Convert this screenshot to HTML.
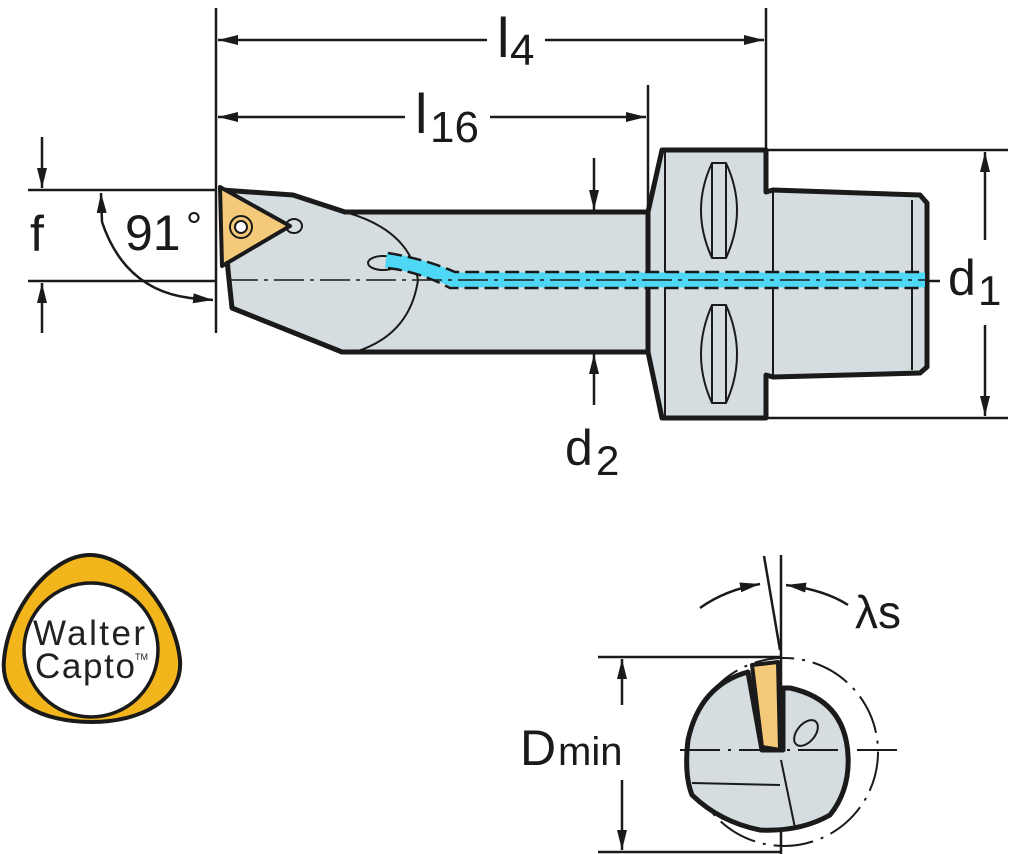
<!DOCTYPE html>
<html><head><meta charset="utf-8"><style>
html,body{margin:0;padding:0;background:#fff}
svg{display:block}
text{font-family:"Liberation Sans",sans-serif;fill:#1a1a1a}
</style></head><body>
<svg width="1024" height="854" viewBox="0 0 1024 854" xmlns="http://www.w3.org/2000/svg">
<defs>
<marker id="a" viewBox="0 0 20 10" refX="20" refY="5" markerWidth="20" markerHeight="10" markerUnits="userSpaceOnUse" orient="auto"><path d="M0,0L20,5L0,10z" fill="#1a1a1a"/></marker>
</defs>
<g stroke="#1a1a1a" stroke-width="2.5" fill="none">
<line x1="216" y1="8" x2="216" y2="333"/>
<line x1="766" y1="8" x2="766" y2="150"/>
<line x1="648" y1="85" x2="648" y2="212"/>
<line x1="487" y1="40" x2="218" y2="40" marker-end="url(#a)"/>
<line x1="545" y1="40" x2="764" y2="40" marker-end="url(#a)"/>
<line x1="405" y1="117" x2="218" y2="117" marker-end="url(#a)"/>
<line x1="490" y1="117" x2="646" y2="117" marker-end="url(#a)"/>
<line x1="28" y1="190" x2="216" y2="190"/>
<line x1="28" y1="281" x2="216" y2="281"/>
<line x1="42" y1="137" x2="42" y2="188" marker-end="url(#a)"/>
<line x1="42" y1="333" x2="42" y2="283" marker-end="url(#a)"/>
<path d="M102,222 Q125,290 190,298" />
<path d="M190,298 L213,300" marker-end="url(#a)"/>
<path d="M102,222 L101,193" marker-end="url(#a)"/>
<line x1="766" y1="150" x2="1008" y2="150"/>
<line x1="766" y1="418" x2="1008" y2="418"/>
<line x1="985" y1="240" x2="985" y2="152" marker-end="url(#a)"/>
<line x1="985" y1="325" x2="985" y2="416" marker-end="url(#a)"/>
<line x1="925" y1="281" x2="940" y2="281"/>
<line x1="594" y1="158" x2="594" y2="210" marker-end="url(#a)"/>
<line x1="594" y1="405" x2="594" y2="354" marker-end="url(#a)"/>
</g>
<g stroke="#1a1a1a" stroke-linejoin="round">
<path d="M222,190 L293,195 L345,212 L648,212 L648,352 L342,352 L232,308 L228,270 Z" fill="#d5dde0" stroke-width="5"/>
<path d="M648,212 L662,150 L766,150 L766,192 L773,190 L920,195 L927,203 L927,367 L920,373 L773,377 L766,375 L766,418 L662,418 L648,352 Z" fill="#d5dde0" stroke-width="5"/>
<g fill="none" stroke-width="2">
<path d="M345,212 Q410,230 418,280 Q410,335 355,352"/>
<line x1="665" y1="152" x2="665" y2="416"/>
<line x1="773" y1="192" x2="773" y2="375"/>
<line x1="912" y1="200" x2="912" y2="370"/>
<path d="M712,163 Q690,210 712,258 L726,258 Q748,210 726,163 Z"/>
<line x1="712" y1="163" x2="712" y2="258"/><line x1="726" y1="163" x2="726" y2="258"/>
<path d="M712,305 Q690,355 712,403 L726,403 Q748,355 726,305 Z"/>
<line x1="712" y1="305" x2="712" y2="403"/><line x1="726" y1="305" x2="726" y2="403"/>
<ellipse cx="294" cy="226" rx="8" ry="7"/>
<ellipse cx="383" cy="263" rx="15" ry="7"/>
</g>
</g>
<path d="M386,260 Q420,265 455,280 L925,280" stroke="#4fd8f5" stroke-width="15" fill="none"/>
<g stroke="#1a1a1a" stroke-width="2.5" fill="none" stroke-dasharray="14,6">
<path d="M388,253 Q425,259 455,272 L925,272"/>
<path d="M388,268 Q420,272 450,288 L925,288"/>
</g>
<line x1="228" y1="280" x2="925" y2="280" stroke="#1a1a1a" stroke-width="1.5" stroke-dasharray="30,6,4,6"/>
<path d="M220,187 L290,226 L222,266 Z" fill="#f5c97a" stroke="#1a1a1a" stroke-width="4" stroke-linejoin="round"/>
<circle cx="241" cy="227" r="11" fill="none" stroke="#1a1a1a" stroke-width="2"/>
<circle cx="241" cy="227" r="6" fill="#fff" stroke="#1a1a1a" stroke-width="2"/>
<text x="497" y="57" font-size="56">l</text><text x="510" y="65" font-size="44">4</text>
<text x="415" y="133" font-size="56">l</text><text x="430" y="142" font-size="44">16</text>
<text x="30" y="251" font-size="50">f</text>
<text x="125" y="250" font-size="50">91</text><text x="186" y="240" font-size="40">°</text>
<text x="948" y="295" font-size="50">d</text><text x="978" y="305" font-size="42">1</text>
<text x="565" y="465" font-size="50">d</text><text x="596" y="475" font-size="42">2</text>
<path d="M90,555 C130,555 175,610 180,660 C183,700 140,722 92,722 C42,722 0,702 4,660 C8,610 50,555 90,555 Z" fill="#f2b61c" stroke="#1a1a1a" stroke-width="4"/>
<circle cx="91" cy="650" r="67" fill="#fff" stroke="#1a1a1a" stroke-width="3.5"/>
<text x="33" y="645" font-size="35" style="fill:#222" textLength="112">Walter</text>
<text x="35" y="678" font-size="35" style="fill:#222" textLength="100">Capto</text>
<text x="135" y="660" font-size="9" style="fill:#222">TM</text>
<g stroke="#1a1a1a" fill="none" stroke-width="2.5">
<line x1="598" y1="657" x2="781" y2="657"/>
<line x1="598" y1="852" x2="781" y2="852"/>
<line x1="622" y1="705" x2="622" y2="659" marker-end="url(#a)"/>
<line x1="622" y1="780" x2="622" y2="850" marker-end="url(#a)"/>
<line x1="781" y1="555" x2="781" y2="854"/>
<line x1="764" y1="556" x2="780" y2="650"/>
<path d="M700,608 Q725,590 760,584" marker-end="url(#a)"/>
<path d="M848,605 Q825,590 786,585" marker-end="url(#a)"/>
</g>
<circle cx="784" cy="752" r="94" fill="none" stroke="#1a1a1a" stroke-width="2" stroke-dasharray="40,8,3,8"/>
<path d="M748,672 Q700,685 688,740 Q684,775 692,795 Q720,822 760,830 Q800,832 830,815 Q850,790 848,755 Q845,700 790,688 L783,688 L783,750 L762,750 Z" fill="#d5dde0" stroke="#1a1a1a" stroke-width="5" stroke-linejoin="round"/>
<path d="M692,783 L780,785 M781,760 L795,828" stroke="#1a1a1a" stroke-width="2" fill="none"/>
<ellipse cx="806" cy="733" rx="9" ry="15" transform="rotate(40 806 733)" fill="none" stroke="#1a1a1a" stroke-width="2"/>
<path d="M752,665 L778,662 L780,750 L762,747 Z" fill="#f5c97a" stroke="#1a1a1a" stroke-width="4" stroke-linejoin="round"/>
<line x1="680" y1="750" x2="898" y2="750" stroke="#1a1a1a" stroke-width="2" stroke-dasharray="40,8,3,8"/>
<text x="520" y="765" font-size="50">D</text><text x="558" y="765" font-size="40">min</text>
<text x="855" y="628" font-size="46">λs</text>
</svg>
</body></html>
